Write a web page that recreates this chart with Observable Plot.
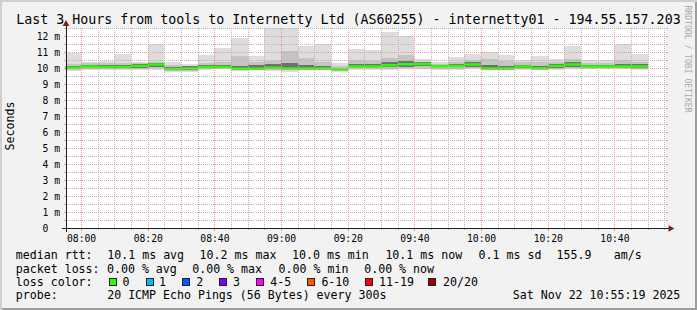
<!DOCTYPE html>
<html><head><meta charset="utf-8">
<script src="https://cdn.jsdelivr.net/npm/d3@7"></script>
<script src="https://cdn.jsdelivr.net/npm/@observablehq/plot@0.6"></script>
<style>
html,body{margin:0;padding:0;background:#f2f2f2;}
#chart{position:relative;width:697px;height:310px;background:#f2f2f2;box-shadow:inset 2px 2px 0 #cfcfcf, inset -2px -2px 0 #9e9e9e;font-family:"DejaVu Sans Mono",monospace;color:#000;overflow:hidden;}
#chart svg{position:absolute;left:0;top:0;}
.t{position:absolute;white-space:pre;line-height:1;}
.box{position:absolute;width:8px;height:8px;box-sizing:border-box;border:1px solid #222;}
</style></head><body><div id="chart"></div>
<script>
// ---------- data ----------
const timeSpan = ["2025-11-22T07:55:19Z", "2025-11-22T10:55:19Z"];
const binEnd = ["08:00","08:05","08:10","08:15","08:20","08:25","08:30","08:35","08:40","08:45","08:50","08:55",
                "09:00","09:05","09:10","09:15","09:20","09:25","09:30","09:35","09:40","09:45","09:50","09:55",
                "10:00","10:05","10:10","10:15","10:20","10:25","10:30","10:35","10:40","10:45","10:50"];
const medianMs = [10.05,10.12,10.10,10.10,10.15,10.25,9.97,10.00,10.10,10.10,9.98,9.98,
                  10.05,10.00,10.00,10.00,9.95,10.12,10.12,10.20,10.26,10.28,10.14,10.16,
                  10.25,10.00,10.00,10.12,10.02,10.15,10.25,10.12,10.12,10.12,10.12];
const maxMs    = [10.94,10.38,10.42,10.85,10.40,11.52,10.35,10.23,10.83,11.22,11.87,10.77,
                  12.70,12.70,11.35,11.50,10.31,11.20,11.12,12.23,11.98,10.56,10.40,10.66,
                  10.90,11.02,10.80,10.52,10.77,10.56,11.40,10.52,10.50,11.50,10.85];
const upper2Ms = [10.25,10.30,10.30,10.30,10.30,10.40,10.20,10.15,10.30,10.35,10.75,10.35,
                  10.45,11.08,10.60,10.35,10.10,10.52,10.45,10.60,10.82,10.40,10.25,10.35,
                  10.50,10.55,10.45,10.35,10.35,10.35,10.55,10.30,10.30,10.50,10.35];
const upper3Ms = [10.12,10.20,10.18,10.17,10.22,10.33,10.05,10.10,10.20,10.18,10.15,10.20,
                  10.25,10.30,10.20,10.15,10.02,10.25,10.25,10.35,10.42,10.36,10.20,10.25,
                  10.35,10.20,10.15,10.20,10.15,10.22,10.35,10.18,10.18,10.25,10.22];
const lower3Ms = [9.97,10.05,10.02,10.03,10.00,10.05,9.88,9.90,10.02,10.03,9.92,9.92,
                  9.95,9.92,9.92,9.93,9.88,10.05,10.05,10.07,10.08,10.10,10.05,10.05,
                  10.08,9.92,9.93,10.00,9.93,10.00,10.08,10.05,10.05,10.05,10.00];
const lower2Ms = [9.88,9.95,9.92,9.95,9.93,9.97,9.80,9.82,9.92,9.98,9.85,9.88,
                  9.90,9.86,9.87,9.88,9.82,9.97,9.97,9.95,9.98,10.00,9.95,9.96,
                  9.98,9.88,9.88,9.95,9.88,9.92,10.00,10.00,9.98,9.98,9.92];
const minMs    = [9.80,9.90,9.85,9.90,9.85,9.90,9.75,9.75,9.85,9.95,9.80,9.85,
                  9.80,9.75,9.85,9.85,9.77,9.90,9.90,9.85,9.95,9.96,9.85,9.90,
                  9.94,9.85,9.85,9.90,9.85,9.88,9.95,9.95,9.95,9.95,9.85];
const lossCount = [0,0,0,0,0,0,0,0,0,0,0,0,0,0,0,0,0,0,0,0,0,0,0,0,0,0,0,0,0,0,0,0,0,0,0];
const yTicks = [0,1,2,3,4,5,6,7,8,9,10,11,12];
const yMax = 12.5;
const lossLabels = ["0","1","2","3","4-5","6-10","11-19","20/20"];
const lossColors = ["#26ff00","#00b8ff","#0059ff","#7e00ff","#ff00ff","#ff5500","#ff0000","#a10000"];
const titleText = "Last 3 Hours from tools to Internetty Ltd (AS60255) - internetty01 - 194.55.157.203";
const rttStats = ["10.1 ms avg","10.2 ms max","10.0 ms min","10.1 ms now","0.1 ms sd","155.9","am/s"];
const lossStats = ["0.00 % avg","0.00 % max","0.00 % min","0.00 % now"];
const probeText = "20 ICMP Echo Pings (56 Bytes) every 300s";
const stampText = "Sat Nov 22 10:55:19 2025";

// ---------- layout ----------
const W = 697, H = 310, mL = 65.5, mR = 31.5, mT = 28, mB = 82;
const plotW = W - mL - mR, plotH = H - mT - mB;
const minorCol = "#b4b4b4", majorCol = "#eb9595";

const xDomain = timeSpan.map(s => new Date(s));
const parse = s => new Date(`2025-11-22T${s}:00Z`);
function lossColor(n){ return n === 0 ? lossColors[0] : n <= 1 ? lossColors[1] : n <= 2 ? lossColors[2] : n <= 3 ? lossColors[3] : n <= 5 ? lossColors[4] : n <= 10 ? lossColors[5] : n <= 19 ? lossColors[6] : lossColors[7]; }
const rows = binEnd.map((s, i) => {
  const x2 = parse(s);
  return {x1: d3.utcMinute.offset(x2, -5), x2, med: medianMs[i], max: maxMs[i], min: minMs[i],
          u2: upper2Ms[i], l2: lower2Ms[i], u3: upper3Ms[i], l3: lower3Ms[i], col: lossColor(lossCount[i])};
});
const majorX = d3.utcMinute.every(20).range(xDomain[0], xDomain[1]);
const minorX = d3.utcMinute.every(5).range(xDomain[0], xDomain[1]).filter(d => d.getUTCMinutes() % 20 !== 0);
const majorY = yTicks.filter(v => v > 0);
const minorY = yTicks.map(v => v + 0.5);

const crisp = {shapeRendering: "crispEdges"};
const plot = Plot.plot({
  width: W, height: H, marginLeft: mL, marginRight: mR, marginTop: mT, marginBottom: mB,
  style: {background: "transparent", color: "#000", fontFamily: "'DejaVu Sans Mono', monospace", fontSize: "9.7px", overflow: "visible"},
  x: {type: "utc", domain: xDomain},
  y: {domain: [0, yMax]},
  color: {type: "identity"},
  marks: [
    Plot.frame({fill: "white", stroke: "none"}),
    Plot.rect(rows, {x1: "x1", x2: "x2", y1: "min", y2: "max", fill: "#dddddd", clip: true, ...crisp}),
    Plot.rect(rows, {x1: "x1", x2: "x2", y1: "l2", y2: "u2", fill: "#c4c4c4", clip: true, ...crisp}),
    Plot.rect(rows, {x1: "x1", x2: "x2", y1: "l3", y2: "u3", fill: "#707070", clip: true, ...crisp}),
    Plot.ruleY(rows, {x1: "x1", x2: "x2", y: "med", stroke: "col", strokeWidth: 2.5, clip: true}),
    // grid (drawn over the data, like rrdtool)
    Plot.ruleX(minorX, {stroke: minorCol, strokeDasharray: "1,1", ...crisp}),
    Plot.ruleY(minorY, {stroke: minorCol, strokeDasharray: "1,1", ...crisp}),
    Plot.ruleX(majorX, {stroke: majorCol, strokeDasharray: "1,1", ...crisp}),
    Plot.ruleY(majorY, {stroke: majorCol, strokeDasharray: "1,1", ...crisp}),
    // small solid ticks outside the canvas
    Plot.ruleX(minorX, {stroke: minorCol, insetTop: plotH, insetBottom: -2, ...crisp}),
    Plot.ruleX(majorX, {stroke: majorCol, insetTop: plotH, insetBottom: -3, ...crisp}),
    Plot.ruleY(minorY, {stroke: minorCol, insetLeft: -2, insetRight: plotW, ...crisp}),
    Plot.ruleY(majorY, {stroke: majorCol, insetLeft: -2, insetRight: plotW, ...crisp}),
    Plot.ruleY(minorY, {stroke: minorCol, insetLeft: plotW, insetRight: -2, ...crisp}),
    Plot.ruleY(majorY, {stroke: majorCol, insetLeft: plotW, insetRight: -2, ...crisp}),
    // axes
    Plot.ruleY([0], {stroke: "#1f1f1f", insetLeft: -4, insetRight: -4, ...crisp}),
    Plot.ruleX([xDomain[0]], {stroke: "#1f1f1f", insetTop: -4, insetBottom: -4, ...crisp}),
    Plot.dot([xDomain[1]], {x: d => d, y: () => 0, symbol: "triangle", r: 2.5, rotate: 90, dx: 4.5, fill: "#801f1f", stroke: "none"}),
    Plot.dot([yMax], {x: () => xDomain[0], y: d => d, symbol: "triangle", r: 2.5, dy: -4.5, fill: "#801f1f", stroke: "none"}),
    Plot.axisX(majorX, {tickFormat: d3.utcFormat("%H:%M"), tickSize: 0, tickPadding: 7, fontSize: 9.7, label: null}),
    Plot.axisY(yTicks, {tickFormat: d => d === 0 ? "0\u00a0\u00a0" : `${d} m`, tickSize: 0, tickPadding: 6, fontSize: 9.7, label: null})
  ]
});
const chart = document.getElementById("chart");
chart.appendChild(plot);

// ---------- texts ----------
function addText(txt, x, baseline, fs, extra){
  const d = document.createElement("div");
  d.className = "t";
  d.textContent = txt;
  d.style.fontSize = fs + "px";
  d.style.left = x + "px";
  d.style.top = (baseline - 0.846 * fs) + "px";
  if (extra) Object.assign(d.style, extra);
  chart.appendChild(d);
  return d;
}
addText(titleText, 16.2, 24, 13.3);
const LF = 11.6;
const rowY = [260.3, 273.7, 287, 300.3];
addText("median rtt:", 15.8, rowY[0], LF);
[107.3, 199.6, 292, 385.4, 478.6, 556.5, 613.8].forEach((x, i) => addText(rttStats[i], x, rowY[0], LF));
addText("packet loss:", 15.8, rowY[1], LF);
[107, 192.2, 278.6, 364.2].forEach((x, i) => addText(lossStats[i], x, rowY[1], LF));
addText("loss color:", 15.8, rowY[2], LF);
const boxX = [108.8, 145.6, 182.3, 219, 256.3, 307, 364.6, 428];
const labX = [122.4, 159.1, 196.2, 232.9, 270.2, 321.4, 379, 443];
lossLabels.forEach((l, i) => {
  const b = document.createElement("div");
  b.className = "box";
  b.style.left = boxX[i] + "px";
  b.style.top = "277.5px";
  b.style.background = lossColors[i];
  chart.appendChild(b);
  addText(l, labX[i], rowY[2], LF);
});
addText("probe:", 15.8, rowY[3], LF);
addText(probeText, 107.2, rowY[3], LF);
addText(stampText, 512.8, rowY[3], LF);

function addRotated(txt, cx, cy, fs, deg, color){
  const d = document.createElement("div");
  d.className = "t";
  d.textContent = txt;
  d.style.fontSize = fs + "px";
  d.style.left = cx + "px";
  d.style.top = cy + "px";
  d.style.color = color;
  d.style.transform = `translate(-50%,-50%) rotate(${deg}deg)`;
  chart.appendChild(d);
}
addRotated("Seconds", 10.8, 126, 11.6, -90, "#000");
addRotated("RRDTOOL / TOBI OETIKER", 687.5, 59, 8.1, 90, "#a8a8a8");
</script></body></html>
